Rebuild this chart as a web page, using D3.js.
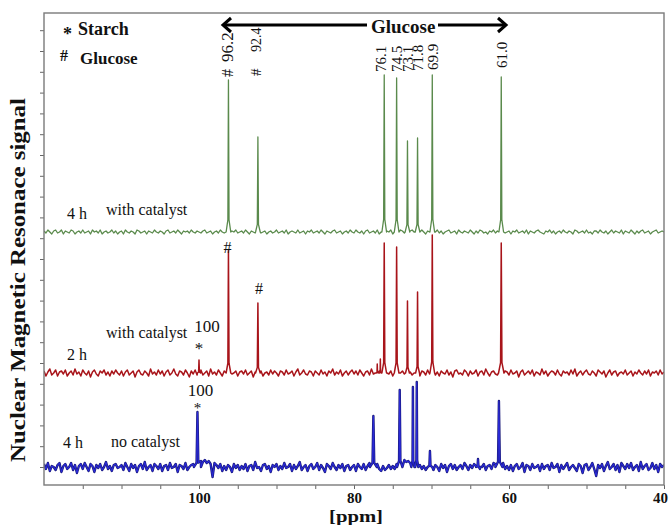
<!DOCTYPE html>
<html><head><meta charset="utf-8">
<script src="https://cdn.jsdelivr.net/npm/d3@7/dist/d3.min.js"></script>
<style>
body{margin:0;background:#fff}
svg{display:block}
text{font-family:"Liberation Serif","Times New Roman",serif;fill:#111}
</style>
</head><body>
<svg id="chart" width="670" height="525"></svg>
<script>
// ---------- DATA ----------
const ppmDomain = [120, 40];
const xTickValues = [115,110,105,100,95,90,85,80,75,70,65,60,55,50,45,40];
const xTickLabels = {100:"100", 80:"80", 60:"60", 40:"40"};
const noiseStart = 120, noiseStep = 0.25;   // baseline samples every 0.25 ppm from 120 to 40

// baseline noise (a.u.)
const greenNoise = [
 1,-1,2,0,-2,1,2,-1,0,2,-2,1,0,-1,2,1,-2,0,1,-1,
 2,-1,0,1,-2,2,0,1,-1,2,-2,0,1,-1,0,2,-1,1,-2,0,
 1,-2,2,0,-1,1,0,-2,2,1,-1,0,1,-2,1,0,-1,2,0,-1,
 1,0,-2,1,2,-1,0,1,-1,2,0,-2,1,0,1,-1,2,0,-1,1,
 0,-1,1,2,-1,0,1,-2,0,1,-1,2,0,-1,1,0,-2,1,0,2,
 -1,0,1,-1,2,0,-2,1,0,-1,1,2,-1,0,1,-2,0,1,-1,0,
 2,-1,0,1,-1,2,-2,0,1,0,-1,2,-1,0,1,-2,1,0,2,-1,
 0,1,-1,2,0,-2,1,0,-1,1,2,-1,0,1,-2,0,1,-1,2,0,
 -1,2,0,-1,1,-2,1,2,-1,0,1,-1,2,-2,0,1,-1,1,0,2,
 -2,1,0,-1,2,1,-1,0,-2,1,2,0,-1,1,-1,2,0,-2,1,0,
 1,-1,0,2,-1,1,-2,0,1,2,-1,0,1,-2,2,0,-1,1,0,-1,
 2,0,-2,1,-1,2,1,-1,0,-2,1,0,2,-1,1,0,-2,2,-1,0,
 1,-2,1,0,2,-1,0,1,-1,2,-2,1,0,-1,1,2,0,-1,-2,1,
 0,2,-1,1,-2,0,1,-1,2,0,-1,1,0,-2,2,1,-1,0,1,-1,
 2,-1,0,-2,1,1,-1,2,0,-1,1,-2,0,2,-1,1,0,-1,2,-2,
 1,0,-1,2,0,-2,1,-1,1,2,-1,0,1,-2,0,1,2,-1,0,1,
 0];
const redNoise = [
 2,-3,1,4,-2,0,3,-3,1,2,-1,3,-3,0,2,-2,4,-1,1,-3,
 3,0,-2,2,-4,1,3,-1,-3,2,0,3,-2,1,-3,2,-1,3,0,-2,
 2,-3,1,3,-2,0,2,-4,1,3,-1,-2,2,0,-3,4,-1,1,-2,3,
 -1,2,-3,1,3,-2,0,4,-1,-3,2,1,-2,3,0,-4,2,-1,3,-2,
 1,3,-2,0,2,-3,4,-1,1,-2,3,0,-3,2,1,-2,3,-1,0,2,
 -3,1,2,-1,3,-2,0,2,-4,1,3,-1,2,-3,0,1,-2,3,-1,2,
 0,-3,2,1,-2,3,-1,0,2,-3,1,4,-2,0,3,-1,-2,2,1,-3,
 2,0,-2,3,-1,1,-3,2,0,4,-2,1,-1,3,-3,0,2,-2,1,3,
 -1,2,-2,3,0,-3,1,2,-2,4,-1,0,-3,2,1,-2,3,0,-1,2,
 -3,1,3,-2,0,2,-1,-3,3,1,-2,0,4,-1,-3,2,1,-2,3,-1,
 0,3,-2,1,-3,2,0,-1,3,-2,1,-4,2,3,-1,0,-2,3,1,-3,
 2,-1,0,3,-3,1,2,-2,4,0,-3,1,2,-1,-2,3,0,-3,2,1,
 -2,3,-1,0,2,-4,1,3,-2,0,2,-1,3,-3,1,0,-2,4,-1,2,
 -3,0,2,1,-2,3,-1,-3,2,0,1,-2,3,-1,4,-3,0,2,-2,1,
 3,-1,-2,2,0,-3,3,1,-1,2,-4,0,3,-2,1,2,-3,0,1,-1,
 3,-2,0,2,-3,1,-1,3,0,-2,2,-1,3,-3,1,0,2,-2,3,-1,
 1];
const blueNoise = [
 3,-2,4,-4,1,0,-3,2,4,-5,1,3,-2,0,4,-3,2,-6,1,3,
 -2,4,0,-4,3,1,-5,2,-1,3,-3,0,5,-2,1,-4,2,3,-1,0,
 2,-3,4,0,-4,3,-1,2,-5,1,3,-2,5,-3,0,2,-4,3,1,-2,
 3,-4,1,2,-3,4,-1,0,3,-5,2,1,-2,4,-3,0,2,3,5,4,
 2,6,5,7,4,6,3,-10,4,2,-1,3,-4,1,-3,2,0,-5,3,-1,
 2,-3,1,-2,3,-4,1,2,-3,5,-1,0,-4,2,3,-2,1,-5,2,0,
 3,-3,1,-2,4,-1,0,3,-4,2,-2,1,5,-3,0,2,-4,1,3,-2,
 0,4,-3,2,-1,-5,3,1,-2,4,0,-3,2,-1,3,-4,1,2,-3,0,
 2,-4,3,0,-2,3,-3,1,4,6,0,5,3,-2,-4,1,-3,-1,2,-2,
 1,-2,3,2,5,6,7,5,6,4,5,6,5,3,2,-2,1,-3,2,4,
 3,-3,2,0,-4,3,-1,2,-5,1,3,-2,2,-3,0,2,-2,4,1,-3,
 2,-1,3,1,2,-2,0,3,-3,1,2,-2,4,3,5,0,0,4,-2,1,
 -3,2,-4,1,3,-2,0,4,-5,2,1,-3,3,-1,0,2,-4,3,-2,1,
 2,-3,4,-1,0,3,-5,2,-2,1,4,-3,0,2,-1,-4,3,1,-6,2,
 3,-3,0,4,-2,-9,2,-1,3,-4,1,5,-2,0,3,-3,2,-5,4,1,
 -2,3,-1,4,-3,0,2,-4,5,-2,1,3,-3,-1,4,-2,2,-5,3,0,
 2];

// peaks: [ppm, height (a.u.), half width (ppm)]
const greenPeaks = [[96.2,152,0.3],[92.4,95,0.3],[76.1,157,0.3],[74.5,154,0.3],[73.1,91,0.3],[71.8,94,0.3],[69.9,157,0.3],[61.0,155,0.3]];
const redPeaks = [[100.0,13,0.2],[96.2,123,0.3],[92.4,70,0.3],[77.0,9,0.12],[76.6,14,0.12],[76.1,130,0.3],[74.5,126,0.3],[73.1,72,0.25],[71.8,81,0.25],[69.9,138,0.3],[61.0,130,0.35]];
const bluePeaks = [[100.2,55,0.45],[77.5,51,0.45],[74.1,77,0.35],[72.4,80,0.2],[71.9,85,0.2],[70.2,16,0.3],[64.0,8,0.25],[61.3,66,0.45]];

// annotation labels
const peakLabels = ["96.2","92.4","76.1","74.5","73.1","71.8","69.9","61.0"];
const seriesNames = ["4 h","2 h","4 h"];
const seriesNotes = ["with catalyst","with catalyst","no catalyst"];

// ---------- LAYOUT ----------
const svg = d3.select("#chart");
const L = 44, R = 664, T = 13, B = 485;
const x = d3.scaleLinear().domain(ppmDomain).range([L, R]);
const y = d3.scaleLinear().domain([-18, 454]).range([B, T]);
const yTickValues = d3.range(0, 440, 20.8);
const offsets = [235, 94, 0];

svg.append("defs").append("clipPath").attr("id","clip")
  .append("rect").attr("x",L).attr("y",T).attr("width",R-L).attr("height",B-T);

const shape = [[1,0],[0.25,0.08],[0,1],[-0.25,0.08],[-1,0]];
function buildPoints(noise, peaks){
  const pts = [];
  noise.forEach((v,i)=>{
    const p = noiseStart - i*noiseStep;
    if(!peaks.some(k=>Math.abs(p-k[0]) < k[2])) pts.push([p, v]);
  });
  peaks.forEach(([p,h,w])=> shape.forEach(([o,f])=> pts.push([p+o*w, f*h])));
  pts.sort((a,b)=>b[0]-a[0]);
  return pts;
}

const series = [[greenNoise, greenPeaks],[redNoise, redPeaks],[blueNoise, bluePeaks]];
const strokes = [
  [["#5a8a4c",1.3]],
  [["#a8141a",1.5]],
  [["#1a1a78",2.4],["#2a2ad8",1.1]]
];
const g = svg.append("g").attr("clip-path","url(#clip)");
series.forEach(([n,pk],i)=>{
  const line = d3.line().x(d=>x(d[0])).y(d=>y(offsets[i]+d[1]));
  const pts = buildPoints(n,pk);
  strokes[i].forEach(([c,w])=>{
    g.append("path").datum(pts)
      .attr("d", line).attr("fill","none")
      .attr("stroke", c).attr("stroke-width", w)
      .attr("stroke-linejoin","round");
  });
});

// axes
const xAxis = d3.axisBottom(x).tickValues(xTickValues).tickSize(4).tickSizeOuter(0)
  .tickFormat(d=> xTickLabels[d] || "");
const gx = svg.append("g").attr("transform",`translate(0,${B})`).call(xAxis);
gx.select(".domain").remove();
gx.selectAll(".tick line").attr("stroke","#666");
gx.selectAll(".tick text").attr("font-family","Liberation Serif").attr("font-size",15)
  .attr("font-weight","bold").attr("fill","#111").attr("dy","0.7em")
  .attr("dx", d=> d===40 ? -4 : 0);

const yAxis = d3.axisLeft(y).tickValues(yTickValues).tickSize(4).tickFormat("");
const gy = svg.append("g").attr("transform",`translate(${L},0)`).call(yAxis);
gy.select(".domain").remove();
gy.selectAll(".tick line").attr("stroke","#666");

svg.append("rect").attr("x",L).attr("y",T).attr("width",R-L).attr("height",B-T)
  .attr("fill","none").attr("stroke","#7a7a7a").attr("stroke-width",1.4);

// axis titles
svg.append("text").attr("x",356).attr("y",522).attr("text-anchor","middle")
  .attr("font-size",17).attr("font-weight","bold")
  .attr("textLength",54).attr("lengthAdjust","spacingAndGlyphs").text("[ppm]");
svg.append("text").attr("transform","translate(25,462) rotate(-90)")
  .attr("font-size",20).attr("font-weight","bold")
  .attr("textLength",364).attr("lengthAdjust","spacingAndGlyphs")
  .text("Nuclear Magnetic Resonace signal");

// legend
svg.append("text").attr("x",63).attr("y",40).attr("font-size",18).attr("font-weight","bold").text("*");
svg.append("text").attr("x",78).attr("y",35).attr("font-size",18).attr("font-weight","bold").text("Starch");
svg.append("text").attr("x",60).attr("y",61).attr("font-size",16).attr("font-weight","bold").text("#");
svg.append("text").attr("x",80).attr("y",64).attr("font-size",17).attr("font-weight","bold").text("Glucose");

// glucose arrow
svg.append("text").attr("x",371).attr("y",33).attr("font-size",19).attr("font-weight","bold").text("Glucose");
svg.append("line").attr("x1",224).attr("x2",367).attr("y1",25).attr("y2",25).attr("stroke","#000").attr("stroke-width",3);
svg.append("line").attr("x1",438).attr("x2",505).attr("y1",25).attr("y2",25).attr("stroke","#000").attr("stroke-width",3);
svg.append("path").attr("d","M231,18 L223,25 L231,32").attr("fill","none").attr("stroke","#000").attr("stroke-width",3);
svg.append("path").attr("d","M498,18 L506,25 L498,32").attr("fill","none").attr("stroke","#000").attr("stroke-width",3);

// rotated peak labels (positioned from the peak ppm)
const labelPpm = [96.2,92.4,76.1,74.5,73.1,71.8,69.9,61.0];
const labelDx = [5,3,2,5,6,5,6,6];
const labelBottom = [62,52,72,72,72,71,70,68];
const labelSize = [17,14,15,15,15,15,15,15];
labelPpm.forEach((p,i)=>{
  svg.append("text").attr("transform",`translate(${x(p)+labelDx[i]},${labelBottom[i]}) rotate(-90)`)
    .attr("font-size",labelSize[i]).text(peakLabels[i]);
});
svg.append("text").attr("transform",`translate(${x(96.2)+5},77) rotate(-90)`).attr("font-size",16).text("#");
svg.append("text").attr("transform",`translate(${x(92.4)+3},76) rotate(-90)`).attr("font-size",15).text("#");

// red / blue annotations
svg.append("text").attr("x",x(96.2)-1).attr("y",253).attr("text-anchor","middle").attr("font-size",16).text("#");
svg.append("text").attr("x",x(92.4)+1).attr("y",294).attr("text-anchor","middle").attr("font-size",16).text("#");
svg.append("text").attr("x",x(100)+8).attr("y",332).attr("text-anchor","middle").attr("font-size",17).text("100");
svg.append("text").attr("x",x(100)).attr("y",354).attr("text-anchor","middle").attr("font-size",17).text("*");
svg.append("text").attr("x",x(100.2)+3).attr("y",396).attr("text-anchor","middle").attr("font-size",17).text("100");
svg.append("text").attr("x",x(100.2)).attr("y",413).attr("text-anchor","middle").attr("font-size",15).text("*");

// series labels
const nameY = [219,360,448], noteX = [106,106,111], noteY = [215,338,447], nameX = [67,67,63];
seriesNames.forEach((s,i)=>{
  svg.append("text").attr("x",nameX[i]).attr("y",nameY[i]).attr("font-size",16).text(s);
  svg.append("text").attr("x",noteX[i]).attr("y",noteY[i]).attr("font-size",16).text(seriesNotes[i]);
});
</script>
</body></html>
